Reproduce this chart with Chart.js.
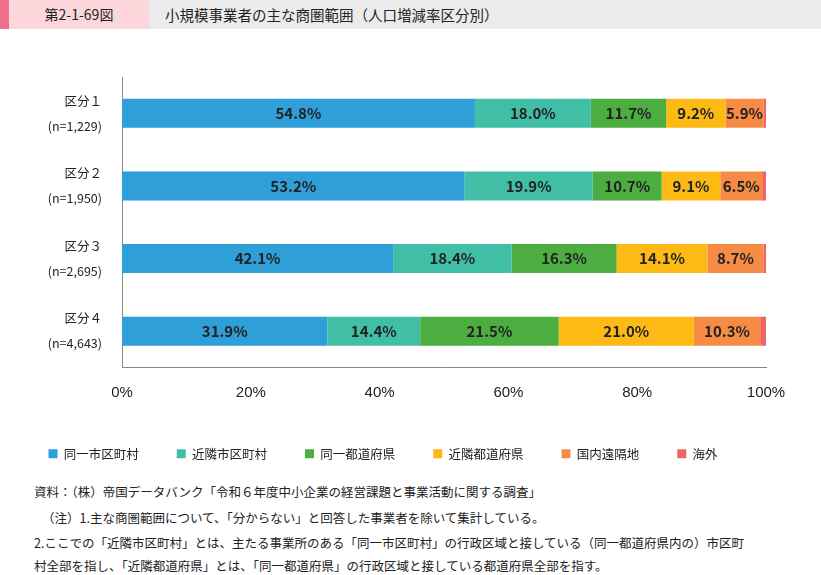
<!DOCTYPE html><html><head><meta charset="utf-8">
<script src="https://cdn.jsdelivr.net/npm/chart.js@4"></script>
<style>
body{margin:0;width:821px;height:575px;background:#fff;font-family:"Noto Sans CJK JP",sans-serif;position:relative;overflow:hidden}
#hd{position:absolute;left:0;top:0;width:821px;height:29px;background:#ebebeb}
#tab{position:absolute;left:0;top:0;width:9px;height:29px;background:#ef6f8a}
#num{position:absolute;left:9px;top:0;width:140px;height:29px;background:#fcd6db;font-size:14px;line-height:29px;text-align:center;color:#222}
#ttl{position:absolute;left:165px;top:0;line-height:29px;font-size:14.5px;color:#222}
#wrap{position:absolute;left:0;top:40px;width:821px;height:430px}
.n{position:absolute;left:34px;font-size:12.5px;color:#222;white-space:nowrap}
</style></head><body>
<div id="hd"></div><div id="tab"></div><div id="num">第2-1-69図</div>
<div id="ttl">小規模事業者の主な商圏範囲（人口増減率区分別）</div>
<div id="wrap"><canvas id="c"></canvas></div>
<div class="n" style="top:482px">資料：（株）帝国データバンク「令和６年度中小企業の経営課題と事業活動に関する調査」</div>
<div class="n" style="top:508px;left:42px">（注）1.主な商圏範囲について、「分からない」と回答した事業者を除いて集計している。</div>
<div class="n" style="top:533px">2.ここでの「近隣市区町村」とは、主たる事業所のある「同一市区町村」の行政区域と接している（同一都道府県内の）市区町</div>
<div class="n" style="top:556px">村全部を指し、「近隣都道府県」とは、「同一都道府県」の行政区域と接している都道府県全部を指す。</div>
<script>
const categories=[["区分１","(n=1,229)"],["区分２","(n=1,950)"],["区分３","(n=2,695)"],["区分４","(n=4,643)"]];
const seriesNames=["同一市区町村","近隣市区町村","同一都道府県","近隣都道府県","国内遠隔地","海外"];
const sameCity=[54.8,53.2,42.1,31.9];
const nearCity=[18.0,19.9,18.4,14.4];
const samePref=[11.7,10.7,16.3,21.5];
const nearPref=[9.2,9.1,14.1,21.0];
const domestic=[5.9,6.5,8.7,10.3];
const overseas=[0.4,0.6,0.4,0.9];
const colors=["#2e9fd9","#40bfa6","#4cae40","#fdb914","#f58b45","#f06464"];
const vals=[sameCity,nearCity,samePref,nearPref,domestic,overseas];
const lbl={id:"lbl",afterDatasetsDraw(ch){const x=ch.ctx;x.save();x.font="bold 15px 'Noto Sans CJK JP'";x.fillStyle="#222";x.textAlign="center";x.textBaseline="middle";
ch.data.datasets.forEach((d,i)=>{if(i===5)return;ch.getDatasetMeta(i).data.forEach((b,j)=>{x.fillText(d.data[j].toFixed(1)+"%",(b.x+b.base)/2,b.y);});});x.restore();}};
new Chart(document.getElementById("c"),{type:"bar",
data:{labels:categories,datasets:vals.map((v,i)=>({label:seriesNames[i],data:v,backgroundColor:colors[i],categoryPercentage:0.4,barPercentage:1}))},
options:{indexAxis:"y",responsive:true,maintainAspectRatio:false,animation:false,
layout:{padding:{left:0,right:55,top:6,bottom:0}},
plugins:{tooltip:{enabled:false},legend:{position:"bottom",labels:{boxWidth:9,boxHeight:9,padding:38,color:"#222",font:{size:12.5,family:"Noto Sans CJK JP"}}}},
scales:{x:{stacked:true,min:0,max:100,grid:{display:false},border:{color:"#888"},ticks:{stepSize:20,color:"#222",font:{size:15},padding:8,callback:v=>v+"%"}},
y:{stacked:true,grid:{display:false},border:{color:"#888"},afterFit(s){s.width=122},ticks:{color:"#222",font:{size:12.5,family:"Noto Sans CJK JP",lineHeight:2},padding:12}}}},
plugins:[lbl]});
</script></body></html>
